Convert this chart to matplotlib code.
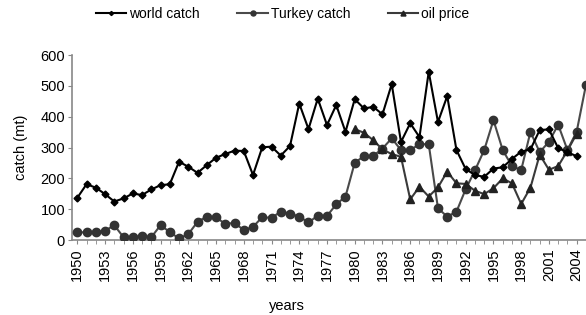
import numpy as np
import matplotlib
matplotlib.use("Agg")
from matplotlib import pyplot as plt
from matplotlib.ticker import MultipleLocator

plt.rcParams['font.family'] = ['Liberation Sans', 'DejaVu Sans']

# yearly values
years = list(range(1950, 2005))
world_catch = [137, 181, 170, 149, 125, 135, 151, 146, 164, 178,
               181, 254, 238, 218, 243, 267, 279, 290, 289, 211,
               301, 303, 274, 305, 443, 360, 459, 373, 438, 351,
               457, 427, 432, 408, 506, 318, 379, 334, 546, 383,
               467, 292, 230, 211, 205, 232, 236, 263, 287, 294,
               357, 359, 298, 285, 272]

turkey_years = list(range(1950, 2006))
turkey_catch = [25, 25, 25, 30, 48, 9, 9, 13, 9, 48,
                26, 5, 19, 59, 76, 74, 52, 56, 32, 43,
                74, 72, 92, 86, 76, 57, 79, 78, 116, 141,
                251, 272, 273, 297, 330, 292, 292, 311, 311, 103,
                76, 92, 165, 226, 292, 389, 292, 240, 227, 351,
                285, 319, 374, 292, 352, 503]

oil_years = list(range(1980, 2005))
oil_price = [360, 348, 324, 294, 279, 270, 132, 173, 141, 171,
             222, 184, 182, 160, 149, 168, 200, 184, 117, 170,
             277, 228, 240, 290, 345]

fig = plt.figure(figsize=(5.86, 3.15), dpi=100)
ax = fig.add_axes([0.1229, 0.238, 0.877, 0.587])

ax.plot(years, world_catch, color='black', lw=1.5, marker='D', ms=3.5,
        mfc='black', mec='black', label='world catch', zorder=4)
ax.plot(turkey_years, turkey_catch, color='#4a4a4a', lw=1.5, marker='o', ms=6,
        mfc='#333333', mec='#333333', label='Turkey catch', zorder=3)
ax.plot(oil_years, oil_price, color='#3a3a3a', lw=1.5, marker='^', ms=6,
        mfc='#222222', mec='#222222', label='oil price', zorder=3)

ax.set_xlim(1949.43, 2005.0)
ax.set_ylim(0, 600)
ax.set_yticks(range(0, 601, 100))
ax.set_xticks(range(1950, 2005, 3))
ax.xaxis.set_minor_locator(MultipleLocator(1))
ax.tick_params(axis='x', which='major', labelrotation=90, length=3, color='#888888',
               labelsize=10.5, pad=3)
ax.tick_params(axis='x', which='minor', length=3, color='#888888')
ax.tick_params(axis='y', length=3, color='#888888', labelsize=10.5, pad=2)

for s in ['top', 'right']:
    ax.spines[s].set_visible(False)
for s in ['left', 'bottom']:
    ax.spines[s].set_color('#888888')
    ax.spines[s].set_linewidth(1.2)

ax.set_ylabel('catch (mt)', fontsize=10.5, labelpad=9)
fig.text(0.49, 0.027, 'years', ha='center', va='center', fontsize=10.5)

fig.legend(loc='upper center', bbox_to_anchor=(0.482, 1.018), ncol=3, frameon=False,
           fontsize=10, handlelength=2.2, handletextpad=0.2, columnspacing=2.7,
           markerscale=0.6)

fig.savefig('out.png', dpi=100)
